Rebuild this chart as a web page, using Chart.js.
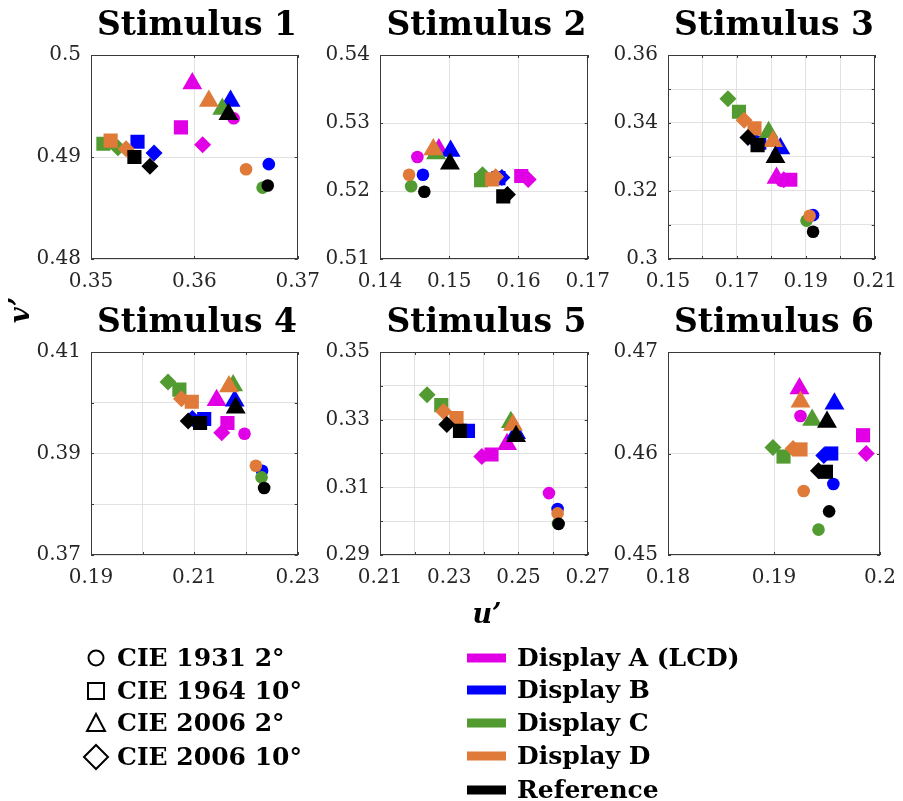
<!DOCTYPE html>
<html>
<head>
<meta charset="utf-8">
<script src="https://cdn.jsdelivr.net/npm/chart.js@4.4.0/dist/chart.umd.min.js"></script>
<style>
  body { margin: 0; background: #fff; overflow: hidden; font-family: "DejaVu Serif", serif; }
  #fig { position: relative; width: 903px; height: 801px; }
  #fig canvas { position: absolute; }
  .txt { position: absolute; white-space: nowrap; color: #000; }
  .title { font-weight: bold; font-size: 33px; height: 40px; line-height: 40px; text-align: center; }
  .axlabel { font-weight: bold; font-style: italic; font-size: 27px; height: 36px; line-height: 36px; width: 60px; text-align: center; }
  .leg { font-weight: bold; font-size: 25px; height: 30px; line-height: 30px; }
  #legsvg { position: absolute; left: 0; top: 0; }
</style>
</head>
<body>
<div id="fig"></div>
<script>
const stimuli = ['Stimulus 1', 'Stimulus 2', 'Stimulus 3', 'Stimulus 4', 'Stimulus 5', 'Stimulus 6'];
const displays = ['Display A (LCD)', 'Display B', 'Display C', 'Display D', 'Reference'];
const displayColors = ['#e100e6', '#0000ff', '#519b30', '#df7a38', '#000000'];
const observers = ['CIE 1931 2°', 'CIE 1964 10°', 'CIE 2006 2°', 'CIE 2006 10°'];
const observerShapes = ['circle', 'rect', 'triangle', 'rectRot'];
const observerRadius = [6.3, 10, 11.5, 8.5];

// axis ranges and tick labels per stimulus
const xMin = [0.35, 0.14, 0.15, 0.19, 0.21, 0.18];
const xMax = [0.37, 0.17, 0.21, 0.23, 0.27, 0.20];
const yMin = [0.48, 0.51, 0.30, 0.37, 0.29, 0.45];
const yMax = [0.50, 0.54, 0.36, 0.41, 0.35, 0.47];
const xTickLabels = [
  ['0.35', '0.36', '0.37'],
  ['0.14', '0.15', '0.16', '0.17'],
  ['0.15', '', '0.17', '', '0.19', '', '0.21'],
  ['0.19', '', '0.21', '', '0.23'],
  ['0.21', '', '0.23', '', '0.25', '', '0.27'],
  ['0.18', '0.19', '0.2'],
];
const yTickLabels = [
  ['0.48', '0.49', '0.5'],
  ['0.51', '0.52', '0.53', '0.54'],
  ['0.3', '', '0.32', '', '0.34', '', '0.36'],
  ['0.37', '', '0.39', '', '0.41'],
  ['0.29', '', '0.31', '', '0.33', '', '0.35'],
  ['0.45', '0.46', '0.47'],
];

// u' and v' values: rows = displays (A, B, C, D, Reference), columns = observers
const stim1U = [
  [0.3638, 0.3587, 0.3598, 0.3608],
  [0.3672, 0.3545, 0.3635, 0.3561],
  [0.3666, 0.3512, 0.3627, 0.3526],
  [0.3650, 0.3519, 0.3614, 0.3534],
  [0.3671, 0.3542, 0.3633, 0.3557],
];
const stim1V = [
  [0.4938, 0.4929, 0.4972, 0.4912],
  [0.4893, 0.4915, 0.4955, 0.4904],
  [0.4870, 0.4913, 0.4947, 0.4909],
  [0.4888, 0.4916, 0.4955, 0.4908],
  [0.4872, 0.4900, 0.4942, 0.4891],
];
const stim2U = [
  [0.1454, 0.1604, 0.1485, 0.1614],
  [0.1462, 0.1571, 0.1502, 0.1576],
  [0.1445, 0.1546, 0.1481, 0.1548],
  [0.1442, 0.1562, 0.1477, 0.1567],
  [0.1464, 0.1578, 0.1501, 0.1584],
];
const stim2V = [
  [0.5250, 0.5222, 0.5261, 0.5217],
  [0.5224, 0.5219, 0.5259, 0.5220],
  [0.5207, 0.5216, 0.5255, 0.5224],
  [0.5224, 0.5217, 0.5261, 0.5221],
  [0.5199, 0.5192, 0.5240, 0.5195],
];
const stim3U = [
  [0.1830, 0.1855, 0.1815, 0.1836],
  [0.1921, 0.1765, 0.1826, 0.1745],
  [0.1902, 0.1706, 0.1792, 0.1674],
  [0.1911, 0.1751, 0.1805, 0.1721],
  [0.1921, 0.1760, 0.1812, 0.1732],
];
const stim3V = [
  [0.3230, 0.3233, 0.3238, 0.3233],
  [0.3129, 0.3342, 0.3325, 0.3355],
  [0.3113, 0.3433, 0.3373, 0.3471],
  [0.3127, 0.3384, 0.3346, 0.3408],
  [0.3080, 0.3335, 0.3299, 0.3357],
];
const stim4U = [
  [0.2197, 0.2164, 0.2143, 0.2153],
  [0.2231, 0.2119, 0.2178, 0.2096],
  [0.2230, 0.2071, 0.2175, 0.2049],
  [0.2219, 0.2095, 0.2167, 0.2075],
  [0.2235, 0.2111, 0.2180, 0.2088],
];
const stim4V = [
  [0.3939, 0.3960, 0.4005, 0.3941],
  [0.3866, 0.3968, 0.4004, 0.3969],
  [0.3853, 0.4026, 0.4034, 0.4041],
  [0.3876, 0.4002, 0.4032, 0.4008],
  [0.3832, 0.3960, 0.3990, 0.3964],
];
const stim5U = [
  [0.2588, 0.2422, 0.2467, 0.2394],
  [0.2613, 0.2354, 0.2493, 0.2335],
  [0.2614, 0.2277, 0.2478, 0.2236],
  [0.2613, 0.2321, 0.2484, 0.2284],
  [0.2616, 0.2331, 0.2493, 0.2293],
];
const stim5V = [
  [0.3083, 0.3197, 0.3227, 0.3191],
  [0.3036, 0.3267, 0.3260, 0.3270],
  [0.2993, 0.3343, 0.3292, 0.3374],
  [0.3023, 0.3305, 0.3284, 0.3324],
  [0.2992, 0.3267, 0.3251, 0.3286],
];
const stim6U = [
  [0.1925, 0.1984, 0.1924, 0.1987],
  [0.1956, 0.1954, 0.1957, 0.1947],
  [0.1942, 0.1909, 0.1936, 0.1899],
  [0.1928, 0.1925, 0.1925, 0.1918],
  [0.1952, 0.1949, 0.1950, 0.1942],
];
const stim6V = [
  [0.4637, 0.4618, 0.4664, 0.4600],
  [0.4570, 0.4600, 0.4649, 0.4598],
  [0.4525, 0.4597, 0.4633, 0.4606],
  [0.4563, 0.4604, 0.4651, 0.4605],
  [0.4543, 0.4582, 0.4631, 0.4583],
];
const allU = [stim1U, stim2U, stim3U, stim4U, stim5U, stim6U];
const allV = [stim1V, stim2V, stim3V, stim4V, stim5V, stim6V];

// plot boxes (left, top, width, height) in page pixels
const boxes = [
  [91, 47, 212, 212], [380, 47, 213, 212], [668, 47, 212, 212],
  [91, 344, 212, 211], [380, 344, 213, 211], [668, 344, 212, 211],
];
const PAD_L = 60, PAD_T = 14, PAD_R = 28, PAD_B = 40;
const drawOrder = [3, 0, 2, 1]; // shapes within a display, last on top

const fig = document.getElementById('fig');

// full box + inward ticks, like matlab axes
const boxPlugin = {
  id: 'box',
  beforeDatasetsDraw(chart) {
    const a = chart.chartArea, ctx = chart.ctx;
    ctx.save();
    ctx.strokeStyle = '#3a3a3a';
    ctx.lineWidth = 1;
    ctx.beginPath();
    chart.scales.x.ticks.forEach(t => {
      const px = Math.round(chart.scales.x.getPixelForValue(t.value)) + 0.5;
      ctx.moveTo(px, a.bottom); ctx.lineTo(px, a.bottom - 3);
      ctx.moveTo(px, a.top); ctx.lineTo(px, a.top + 3);
    });
    chart.scales.y.ticks.forEach(t => {
      const py = Math.round(chart.scales.y.getPixelForValue(t.value)) + 0.5;
      ctx.moveTo(a.left, py); ctx.lineTo(a.left + 3, py);
      ctx.moveTo(a.right, py); ctx.lineTo(a.right - 3, py);
    });
    ctx.stroke();
    ctx.strokeRect(Math.round(a.left) + 0.5, Math.round(a.top) + 0.5,
      Math.round(a.width) - 1, Math.round(a.height) - 1);
    ctx.restore();
  }
};

const tickFont = { family: 'DejaVu Serif', size: 20 };

stimuli.forEach((name, s) => {
  const [bl, bt, bw, bh] = boxes[s];
  const canvas = document.createElement('canvas');
  canvas.width = PAD_L + bw + PAD_R;
  canvas.height = PAD_T + bh + PAD_B;
  canvas.style.left = (bl - PAD_L) + 'px';
  canvas.style.top = (bt - PAD_T) + 'px';
  fig.appendChild(canvas);

  const datasets = [];
  displays.forEach((d, di) => {
    drawOrder.forEach(oi => {
      datasets.push({
        label: d + ' / ' + observers[oi],
        data: [{ x: allU[s][di][oi], y: allV[s][di][oi] }],
        pointStyle: observerShapes[oi],
        pointRadius: observerRadius[oi],
        pointHoverRadius: observerRadius[oi],
        backgroundColor: displayColors[di],
        borderWidth: 0,
      });
    });
  });
  datasets.forEach((ds, i) => { ds.order = datasets.length - i; });

  new Chart(canvas, {
    type: 'scatter',
    data: { datasets },
    options: {
      responsive: false,
      animation: false,
      layout: { padding: { top: PAD_T, right: PAD_R, left: 0, bottom: 0 } },
      plugins: { legend: { display: false }, tooltip: { enabled: false } },
      scales: {
        x: {
          type: 'linear', min: xMin[s], max: xMax[s],
          ticks: {
            stepSize: 0.01, padding: 11, color: '#262626', font: tickFont,
            maxRotation: 0, autoSkip: false,
            callback: (v, i) => xTickLabels[s][i] ?? '',
          },
          grid: { color: '#e2e2e2', drawTicks: false },
          border: { display: false },
          afterFit: sc => { sc.height = PAD_B; },
        },
        y: {
          type: 'linear', min: yMin[s], max: yMax[s],
          ticks: {
            stepSize: 0.01, padding: 10, color: '#262626', font: tickFont,
            autoSkip: false,
            callback: (v, i) => yTickLabels[s][i] ?? '',
          },
          grid: { color: '#e2e2e2', drawTicks: false },
          border: { display: false },
          afterFit: sc => { sc.width = PAD_L; },
        },
      },
    },
    plugins: [boxPlugin],
  });

  const t = document.createElement('div');
  t.className = 'txt title';
  t.textContent = name;
  t.style.width = '300px';
  t.style.left = (bl + bw / 2 - 150) + 'px';
  t.style.top = (s < 3 ? 24 : 321) - 20 + 'px';
  fig.appendChild(t);
});

// axis labels
const xl = document.createElement('div');
xl.className = 'txt axlabel';
xl.textContent = 'u’';
xl.style.left = (487 - 30) + 'px';
xl.style.top = (614 - 18) + 'px';
fig.appendChild(xl);
const yl = document.createElement('div');
yl.className = 'txt axlabel';
yl.textContent = 'v’';
yl.style.left = (20 - 30) + 'px';
yl.style.top = (310 - 18) + 'px';
yl.style.transform = 'rotate(-90deg)';
fig.appendChild(yl);

// legends: observer shapes (left) and display colours (right)
const svgNS = 'http://www.w3.org/2000/svg';
const svg = document.createElementNS(svgNS, 'svg');
svg.setAttribute('id', 'legsvg');
svg.setAttribute('width', 903);
svg.setAttribute('height', 801);
fig.appendChild(svg);
function el(tag, attrs) {
  const e = document.createElementNS(svgNS, tag);
  for (const k in attrs) e.setAttribute(k, attrs[k]);
  svg.appendChild(e);
}
function legText(txt, x, y) {
  const d = document.createElement('div');
  d.className = 'txt leg';
  d.textContent = txt;
  d.style.left = x + 'px';
  d.style.top = (y - 15) + 'px';
  fig.appendChild(d);
}
const obsRows = [658, 691, 723, 757];
observers.forEach((o, i) => {
  const y = obsRows[i], cx = 96;
  const st = { fill: 'none', stroke: '#000', 'stroke-width': 2 };
  if (observerShapes[i] === 'circle') el('circle', { cx, cy: y, r: 7.5, ...st });
  if (observerShapes[i] === 'rect') el('rect', { x: cx - 8, y: y - 8, width: 16, height: 16, ...st });
  if (observerShapes[i] === 'triangle') el('polygon', { points: `${cx - 9},${y + 8} ${cx + 9},${y + 8} ${cx},${y - 9}`, ...st });
  if (observerShapes[i] === 'rectRot') el('polygon', { points: `${cx - 12},${y} ${cx},${y - 12} ${cx + 12},${y} ${cx},${y + 12}`, ...st });
  legText(o, 117, y);
});
const dispRows = [658, 690, 723, 756, 790];
displays.forEach((d, i) => {
  const y = dispRows[i];
  el('rect', { x: 467, y: y - 4.5, width: 39, height: 9, fill: displayColors[i] });
  legText(d, 517, y);
});
</script>
</body>
</html>
